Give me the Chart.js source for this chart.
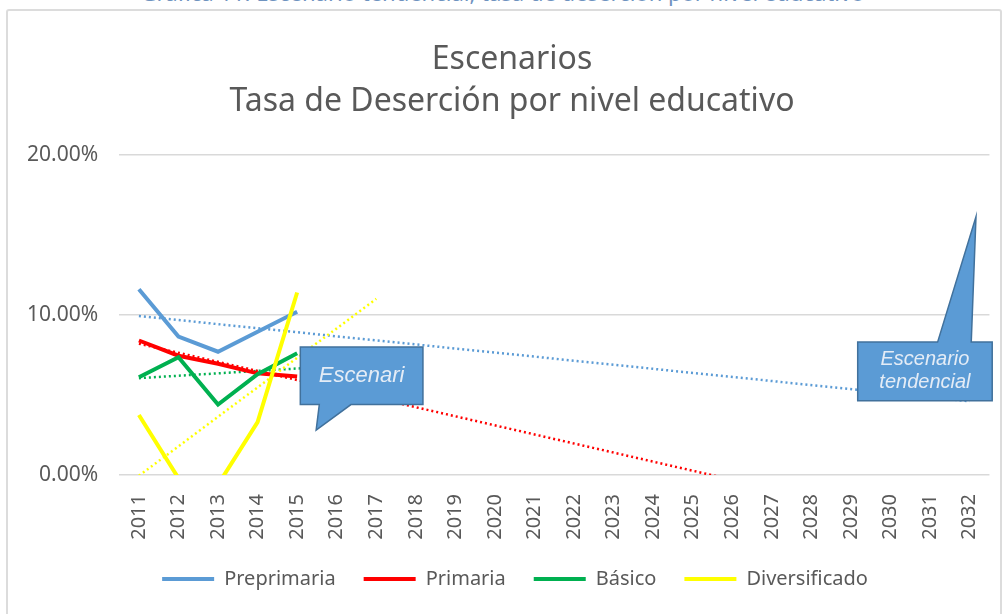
<!DOCTYPE html>
<html>
<head>
<meta charset="utf-8">
<script src="https://cdn.jsdelivr.net/npm/chart.js@4.4.1/dist/chart.umd.min.js"></script>
<style>
    html, body { margin: 0; padding: 0; background: #fff; overflow: hidden; }
    #marco { position: absolute; left: 6px; top: 9px; width: 996px; height: 620px; border: 2px solid #dcdcdc; border-radius: 3px; box-sizing: border-box; }
    #leyenda { position: absolute; left: 0; width: 1005px; top: -23px; text-align: center; font: 22px "Noto Sans"; color: #6f93bf; white-space: nowrap; }
    #contenedor { position: absolute; left: 0; top: 0; width: 1005px; height: 614px; }
</style>
</head>
<body>
<div id="leyenda">Gráfica 11: Escenario tendencial, tasa de deserción por nivel educativo</div>
<div id="marco"></div>
<div id="contenedor"><canvas id="myChart" width="1005" height="614"></canvas></div>

<script>
// datos (porcentajes)
var anios = ['2011', '2012', '2013', '2014', '2015', '2016', '2017', '2018', '2019', '2020', '2021',
             '2022', '2023', '2024', '2025', '2026', '2027', '2028', '2029', '2030', '2031', '2032'];

var preprimaria   = [11.6, 8.65, 7.7, 8.95, 10.2];
var primaria      = [8.4, 7.45, 6.95, 6.35, 6.15];
var basico        = [6.1, 7.35, 4.4, 6.3, 7.6];
var diversificado = [3.75, -0.2, -0.6, 3.3, 11.4];

// lineas de tendencia (inicio y fin)
var tendPreprimaria   = {desde: 0, hasta: 21, inicio: 9.93, fin: 4.6};
var tendPrimaria      = {desde: 0, hasta: 15, inicio: 8.2, fin: -0.3};
var tendBasico        = {desde: 0, hasta: 6, inicio: 6.05, fin: 6.95};
var tendDiversificado = {desde: 0, hasta: 6, inicio: -0.05, fin: 11.0};

var ticksY = [0, 10, 20];

var colores = ['#5b9bd5', '#ff0000', '#00b050', '#ffff00'];

function tendencia(t) {
    var arr = [];
    for (var i = 0; i < anios.length; i++) arr.push(null);
    arr[t.desde] = t.inicio;
    arr[t.hasta] = t.fin;
    return arr;
}

function serie(nombre, datos, color, orden) {
    return {
        label: nombre,
        data: datos,
        borderColor: color,
        backgroundColor: color,
        borderWidth: 4,
        pointRadius: 0,
        tension: 0,
        order: orden
    };
}

function serieTend(datos, color, orden) {
    return {
        label: '',
        tend: true,
        data: datos,
        borderColor: color,
        backgroundColor: color,
        borderWidth: 2.5,
        borderDash: [2, 3],
        pointRadius: 0,
        spanGaps: true,
        order: orden
    };
}

// globos de texto, en unidades de los ejes (indice de año, %)
var globos = [
    {izq: 4.08, der: 7.18, arriba: 8.0, abajo: 4.4, punta: [4.48, 2.8], base: [4.56, 5.36], lineas: ['Escenari'], tam: 22},
    {izq: 18.17, der: 21.57, arriba: 8.3, abajo: 4.64, punta: [21.16, 16.13], base: [20.19, 21.04], lineas: ['Escenario', 'tendencial'], tam: 20}
];

var pluginGlobos = {
    id: 'globos',
    afterLayout: function(chart) {
        // el titulo y la leyenda van algo a la derecha, como en el original
        if (chart.titleBlock) { chart.titleBlock.left += 14; chart.titleBlock.right += 14; }
        if (chart.legend) { chart.legend.left += 17; chart.legend.right += 17; }
    },
    afterDatasetsDraw: function(chart) {
        var ctx = chart.ctx;
        var x = chart.scales.x, y = chart.scales.y;
        globos.forEach(function(g) {
            var l = x.getPixelForValue(g.izq), r = x.getPixelForValue(g.der);
            var t = y.getPixelForValue(g.arriba), b = y.getPixelForValue(g.abajo);
            var px = x.getPixelForValue(g.punta[0]), py = y.getPixelForValue(g.punta[1]);
            var b1 = x.getPixelForValue(g.base[0]), b2 = x.getPixelForValue(g.base[1]);
            var arribaPunta = py < t;
            ctx.save();
            ctx.beginPath();
            if (arribaPunta) {
                ctx.moveTo(l, t); ctx.lineTo(b1, t); ctx.lineTo(px, py); ctx.lineTo(b2, t);
                ctx.lineTo(r, t); ctx.lineTo(r, b); ctx.lineTo(l, b);
            } else {
                ctx.moveTo(l, t); ctx.lineTo(r, t); ctx.lineTo(r, b); ctx.lineTo(b2, b);
                ctx.lineTo(px, py); ctx.lineTo(b1, b); ctx.lineTo(l, b);
            }
            ctx.closePath();
            ctx.fillStyle = '#5b9bd5';
            ctx.fill();
            ctx.strokeStyle = '#41719c';
            ctx.lineWidth = 1.5;
            ctx.stroke();
            ctx.fillStyle = '#e4ecf6';
            ctx.font = 'italic ' + g.tam + 'px "Liberation Sans Narrow", "Liberation Sans"';
            ctx.textAlign = 'center';
            ctx.textBaseline = 'middle';
            var cx = (l + r) / 2, cy = (t + b) / 2;
            var alto = g.tam * 1.15;
            g.lineas.forEach(function(txt, i) {
                ctx.fillText(txt, cx, cy + (i - (g.lineas.length - 1) / 2) * alto);
            });
            ctx.restore();
        });
    }
};

const ctx = document.getElementById('myChart');

new Chart(ctx, {
    type: 'line',
    data: {
        labels: anios,
        datasets: [
            serie('Preprimaria', preprimaria, colores[0], 4),
            serie('Primaria', primaria, colores[1], 3),
            serie('Básico', basico, colores[2], 2),
            serie('Diversificado', diversificado, colores[3], 1),
            serieTend(tendencia(tendPreprimaria), colores[0], 8),
            serieTend(tendencia(tendPrimaria), colores[1], 7),
            serieTend(tendencia(tendBasico), colores[2], 6),
            serieTend(tendencia(tendDiversificado), colores[3], 5)
        ]
    },
    options: {
        responsive: false,
        animation: false,
        layout: { padding: { top: 38, left: 6, right: 15, bottom: 15 } },
        plugins: {
            title: {
                display: true,
                text: ['Escenarios', 'Tasa de Deserción por nivel educativo'],
                color: '#595959',
                font: { family: 'Noto Sans', size: 32, weight: 'normal', lineHeight: 1.34 },
                padding: { top: 0, bottom: 31 }
            },
            legend: {
                position: 'bottom',
                labels: {
                    color: '#595959',
                    font: { family: 'Noto Sans', size: 20 },
                    boxWidth: 52,
                    boxHeight: 4,
                    padding: 28,
                    sort: function(a, b) { return a.datasetIndex - b.datasetIndex; },
                    generateLabels: function(chart) {
                        var items = Chart.defaults.plugins.legend.labels.generateLabels(chart);
                        return items.filter(function(it) {
                            return !chart.data.datasets[it.datasetIndex].tend;
                        }).map(function(it) {
                            it.lineWidth = 0;
                            it.fillStyle = it.strokeStyle;
                            return it;
                        });
                    }
                }
            },
            tooltip: { enabled: false }
        },
        scales: {
            x: {
                offset: true,
                grid: { display: false },
                border: { display: false },
                afterFit: function(scale) { scale.height = 66; },
                ticks: {
                    color: '#595959',
                    font: { family: 'Noto Sans', size: 20 },
                    minRotation: 90,
                    maxRotation: 90,
                    autoSkip: false,
                    padding: 11
                }
            },
            y: {
                min: 0,
                max: 20,
                border: { display: false },
                grid: { color: '#d9d9d9', lineWidth: 1.5, drawTicks: false },
                afterBuildTicks: function(axis) {
                    axis.ticks = ticksY.map(function(v) { return {value: v}; });
                },
                ticks: {
                    color: '#595959',
                    font: { family: 'Noto Sans', size: 21 },
                    padding: 21,
                    callback: function(v) { return v.toFixed(2) + '%'; }
                }
            }
        }
    },
    plugins: [pluginGlobos]
});
</script>
</body>
</html>
